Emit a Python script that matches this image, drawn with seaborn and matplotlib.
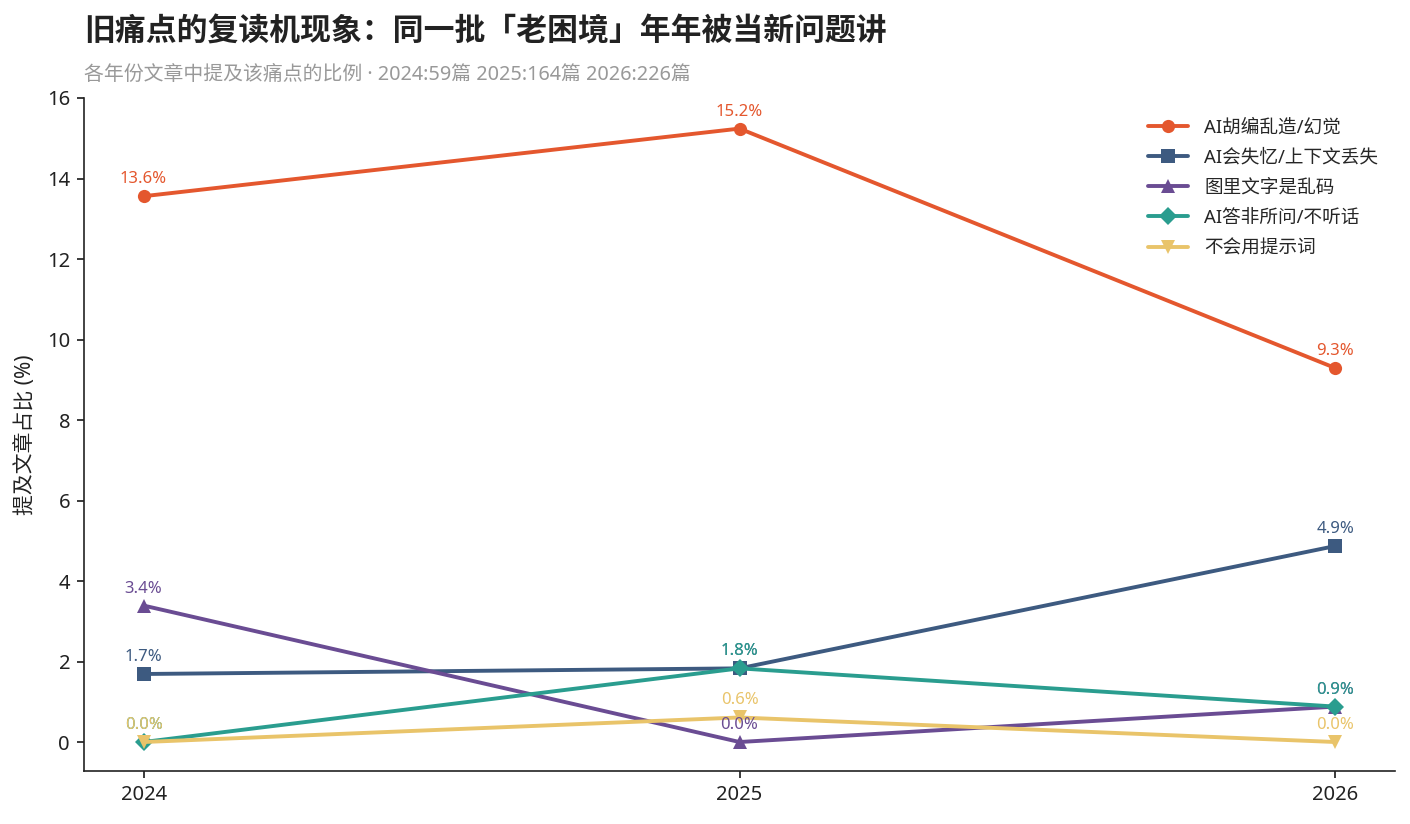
import matplotlib
matplotlib.use("Agg")
import matplotlib.pyplot as plt
import seaborn as sns
import pandas as pd

years = ["2024", "2025", "2026"]
series_names = ["AI胡编乱造/幻觉", "AI会失忆/上下文丢失", "图里文字是乱码", "AI答非所问/不听话", "不会用提示词"]
hallucination = [13.56, 15.24, 9.29]
memory_loss = [1.69, 1.83, 4.87]
garbled_text = [3.39, 0.0, 0.88]
off_topic = [0.0, 1.83, 0.88]
prompt_skill = [0.0, 0.61, 0.0]
values = [hallucination, memory_loss, garbled_text, off_topic, prompt_skill]

colors = ["#E4572E", "#3D5A80", "#6A4C93", "#2A9D8F", "#E9C46A"]
markers = ["o", "s", "^", "D", "v"]

sns.set_theme(style="ticks")
plt.rcParams["font.family"] = ["Noto Sans", "Noto Sans CJK SC", "DejaVu Sans"]
plt.rcParams["axes.unicode_minus"] = False

fig = plt.figure(figsize=(14.1, 8.24), dpi=100)
ax = fig.add_axes([84 / 1410, 1 - 771 / 824, (1395 - 84) / 1410, (771 - 98) / 824])

xs = list(range(len(years)))
for name, vals, c, m in zip(series_names, values, colors, markers):
    df = pd.DataFrame({"x": xs, "y": vals})
    sns.lineplot(data=df, x="x", y="y", ax=ax, color=c, marker=m, markersize=9.5,
                 markeredgewidth=0, linewidth=2.8, label=name)
    for xi, v in zip(xs, vals):
        ax.annotate(f"{v:.1f}%", (xi, v), xytext=(0, 6.5), textcoords="offset points",
                    ha="center", va="bottom", fontsize=12, color=c)

ax.set_xlim(-0.1, 2.1)
ax.set_ylim(-0.72, 16)
ax.set_xticks(xs)
ax.set_xticklabels(years)
ax.set_yticks(range(0, 17, 2))
ax.tick_params(axis="both", labelsize=14.5, colors="#222222", length=5, pad=5)
ax.set_xlabel("")
ax.set_ylabel("提及文章占比 (%)", fontsize=15, color="#222222", labelpad=8)
sns.despine(ax=ax)
for s in ["left", "bottom"]:
    ax.spines[s].set_color("#222222")
    ax.spines[s].set_linewidth(1.2)

leg = ax.legend(loc="upper right", frameon=False, fontsize=13.4, handlelength=2.15,
                handletextpad=0.86, labelspacing=0.66, bbox_to_anchor=(1.0, 0.995))

fig.text(84 / 1410, 1 - 32 / 824, "旧痛点的复读机现象：同一批「老困境」年年被当新问题讲",
         fontsize=22.2, fontweight="bold", color="#222222", ha="left", va="center")
fig.text(84 / 1410, 1 - 75 / 824, "各年份文章中提及该痛点的比例 · 2024:59篇 2025:164篇 2026:226篇",
         fontsize=14.3, color="#999999", ha="left", va="center")

fig.savefig("out.png", dpi=100)
